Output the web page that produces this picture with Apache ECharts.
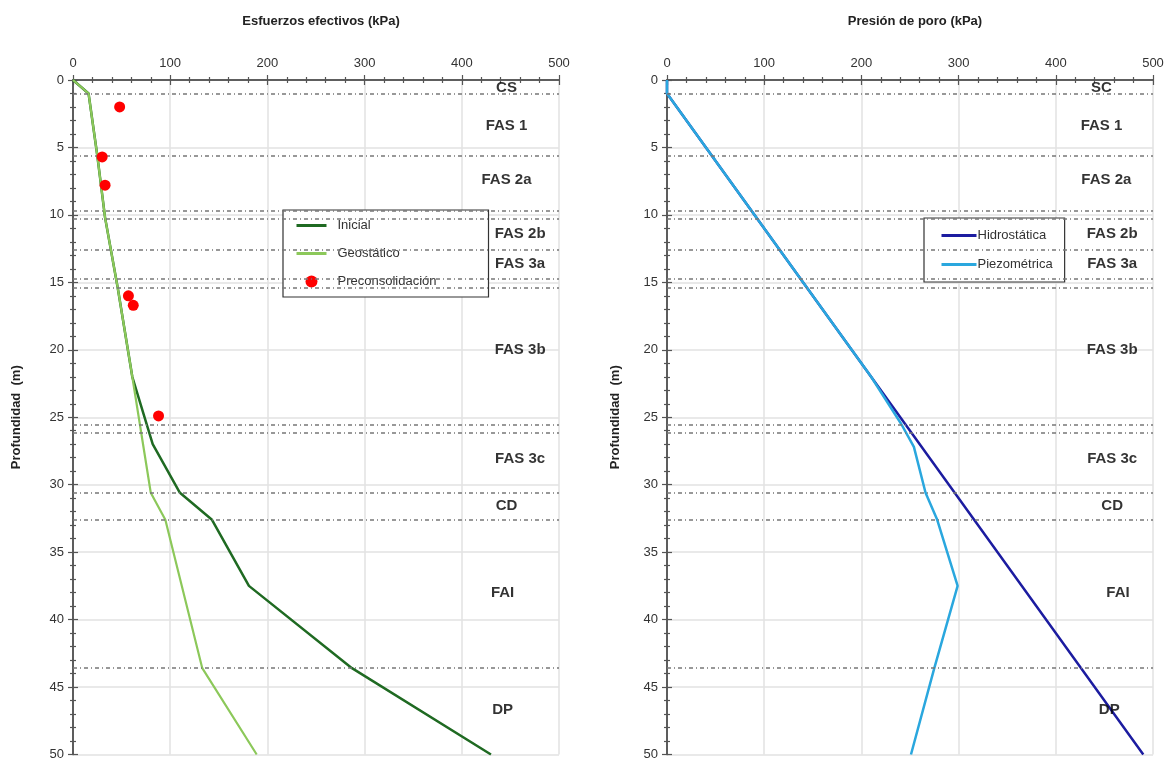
<!DOCTYPE html>
<html><head><meta charset="utf-8">
<script src="https://cdn.jsdelivr.net/npm/echarts@6/dist/echarts.min.js"></script>
<style>html,body{margin:0;padding:0;background:#fff}#c{width:1172px;height:761px}</style>
</head><body><div id="c"></div>
<script>
// ---- data ----
const xTicks = [0, 100, 200, 300, 400, 500];
const depthTicks = [0, 5, 10, 15, 20, 25, 30, 35, 40, 45, 50];
const depthInicial = [0, 1, 5.6, 10.2, 15.4, 22, 27, 30.6, 32.6, 37.5, 43.6, 50];
const inicial      = [0, 16, 25, 33, 46, 61, 82, 110, 143, 181, 287, 430];
const depthGeo     = [0, 1, 5.6, 10.2, 15.4, 22, 30.6, 32.6, 43.6, 50];
const geostatico   = [0, 16, 25, 33, 46, 61, 80, 95, 133, 189];
const precDepth    = [2.0, 5.7, 7.8, 16.0, 16.7, 24.9];
const precValue    = [48, 30, 33, 57, 62, 88];
const depthHidro   = [0, 1, 50];
const hidrostatica = [0, 0, 490];
const depthPiezo   = [0, 1, 22, 25.5, 27.2, 30.6, 32.6, 37.5, 43.6, 50];
const piezometrica = [0, 0, 210, 241, 254, 266, 278, 299, 275, 251];
const layerBounds  = [1.0, 5.6, 9.7, 10.3, 12.6, 14.75, 15.4, 25.55, 26.15, 30.6, 32.6, 43.55];
const layersLeft   = ['CS', 'FAS 1', 'FAS 2a', 'FAS 2b', 'FAS 3a', 'FAS 3b', 'FAS 3c', 'CD', 'FAI', 'DP'];
const layersRight  = ['SC', 'FAS 1', 'FAS 2a', 'FAS 2b', 'FAS 3a', 'FAS 3b', 'FAS 3c', 'CD', 'FAI', 'DP'];
const layerLabelDepth = [0.6, 3.4, 7.4, 11.4, 13.6, 20, 28.1, 31.6, 38, 46.7];

// ---- layout (not data) ----
const labelXLeft  = [446, 446, 446, 460, 460, 460, 460, 446, 442, 442];
const labelXRight = [447, 447, 452, 458, 458, 458, 458, 458, 464, 455];

const FONT = '"Liberation Sans", Arial, sans-serif';
const zip = (xs, ys) => xs.map((x, i) => [x, ys[i]]);

function xAxes(gridIndex) {
  const base = {
    gridIndex, type: 'value', position: 'top', min: 0, max: 500, interval: 100,
    axisLine: { show: true, lineStyle: { color: '#555', width: 1.5 } },
    minorTick: { show: true, splitNumber: 5, length: 3, lineStyle: { color: '#555', width: 1.2 } },
    axisTick: { show: true, length: 5, lineStyle: { color: '#555', width: 1.2 } },
    splitLine: { show: true, lineStyle: { color: '#e2e2e2', width: 1.5 } },
  };
  return [
    Object.assign({}, base, {
      axisLabel: { show: true, margin: 10, color: '#333', fontSize: 13, fontFamily: FONT }
    }),
    Object.assign({}, base, {
      axisLabel: { show: false }, splitLine: { show: false },
      axisTick: Object.assign({}, base.axisTick, { inside: true })
    })
  ];
}
function yAxes(gridIndex, nameGap) {
  const base = {
    gridIndex, type: 'value', position: 'left', inverse: true, min: 0, max: 50, interval: 5,
    axisLine: { show: true, onZero: false, lineStyle: { color: '#555', width: 1.5 } },
    minorTick: { show: true, splitNumber: 5, length: 3, lineStyle: { color: '#555', width: 1.2 } },
    axisTick: { show: true, length: 5, lineStyle: { color: '#555', width: 1.2 } },
    splitLine: { show: true, lineStyle: { color: '#e2e2e2', width: 1.5 } },
  };
  return [
    Object.assign({}, base, {
      name: 'Profundidad  (m)', nameLocation: 'middle', nameGap,
      nameTextStyle: { fontSize: 13, fontWeight: 'bold', color: '#222', fontFamily: FONT },
      axisLabel: { show: true, margin: 9, color: '#333', fontSize: 13, fontFamily: FONT }
    }),
    Object.assign({}, base, {
      axisLabel: { show: false }, splitLine: { show: false },
      axisTick: Object.assign({}, base.axisTick, { inside: true })
    })
  ];
}

const boundLine = {
  silent: true, symbol: 'none', animation: false,
  label: { show: false },
  lineStyle: { color: '#777', width: 1.5, type: [4, 3, 1, 3] },
  data: layerBounds.map(d => ({ yAxis: d }))
};
function labelSeries(xi, yi, names, xs) {
  return {
    type: 'scatter', xAxisIndex: xi, yAxisIndex: yi, symbolSize: 0, silent: true,
    data: names.map((n, i) => [xs[i], layerLabelDepth[i], n]),
    label: { show: true, position: 'inside', formatter: p => p.data[2],
      fontSize: 15, fontWeight: 'bold', color: '#000', fontFamily: FONT },
    z: 5
  };
}
const hideSym = { color: 'rgba(0,0,0,0)', borderWidth: 0 };

const chart = echarts.init(document.getElementById('c'), null, { renderer: 'canvas' });
chart.setOption({
  animation: false,
  backgroundColor: '#fff',
  title: [
    { text: 'Esfuerzos efectivos (kPa)', left: 316, top: 10, textAlign: 'center',
      textStyle: { fontSize: 13, fontWeight: 'bold', color: '#222', fontFamily: FONT } },
    { text: 'Presión de poro (kPa)', left: 910, top: 10, textAlign: 'center',
      textStyle: { fontSize: 13, fontWeight: 'bold', color: '#222', fontFamily: FONT } }
  ],
  grid: [
    { left: 73, top: 80, width: 486, height: 676 },
    { left: 667, top: 80, width: 486, height: 676 }
  ],
  xAxis: [...xAxes(0), ...xAxes(1)],
  yAxis: [...yAxes(0, 50), ...yAxes(1, 45)],
  legend: [
    { data: [{ name: 'Inicial', itemStyle: hideSym }, { name: 'Geostático', itemStyle: hideSym }, 'Preconsolidación'],
      orient: 'vertical',
      left: 283, top: 210, padding: [9, 52, 9, 12], itemGap: 15, itemWidth: 30, itemHeight: 12,
      lineStyle: { width: 3 },
      borderColor: '#333', borderWidth: 1.2, backgroundColor: '#fff',
      textStyle: { fontSize: 13, color: '#333', fontFamily: FONT, padding: [0, 0, 0, 6] } },
    { data: [{ name: 'Hidrostática', itemStyle: hideSym }, { name: 'Piezométrica', itemStyle: hideSym }],
      orient: 'vertical',
      left: 924, top: 218, padding: [11, 12, 11, 16], itemGap: 16, itemWidth: 35, itemHeight: 13,
      lineStyle: { width: 3 },
      borderColor: '#333', borderWidth: 1.2, backgroundColor: '#fff',
      textStyle: { fontSize: 13, color: '#333', fontFamily: FONT, padding: [0, 0, 0, -4] } }
  ],
  series: [
    { name: 'bounds1', type: 'line', xAxisIndex: 0, yAxisIndex: 0, data: [], markLine: boundLine, z: 1 },
    { name: 'bounds2', type: 'line', xAxisIndex: 2, yAxisIndex: 2, data: [], markLine: boundLine, z: 1 },
    { name: 'Inicial', type: 'line', xAxisIndex: 0, yAxisIndex: 0, symbol: 'none',
      data: zip(inicial, depthInicial), color: '#1f6a22', lineStyle: { width: 2.5, color: '#1f6a22' }, z: 3 },
    { name: 'Geostático', type: 'line', xAxisIndex: 0, yAxisIndex: 0, symbol: 'none',
      data: zip(geostatico, depthGeo), color: '#8cc85a', lineStyle: { width: 2.2, color: '#8cc85a' }, z: 4 },
    { name: 'Preconsolidación', type: 'scatter', xAxisIndex: 0, yAxisIndex: 0, symbolSize: 11,
      data: zip(precValue, precDepth), itemStyle: { color: '#ff0000', opacity: 1 }, z: 5 },
    { name: 'Hidrostática', type: 'line', xAxisIndex: 2, yAxisIndex: 2, symbol: 'none',
      data: zip(hidrostatica, depthHidro), color: '#1c1ca0', lineStyle: { width: 2.5, color: '#1c1ca0' }, z: 3 },
    { name: 'Piezométrica', type: 'line', xAxisIndex: 2, yAxisIndex: 2, symbol: 'none',
      data: zip(piezometrica, depthPiezo), color: '#2aa7de', lineStyle: { width: 2.5, color: '#2aa7de' }, z: 4 },
    labelSeries(0, 0, layersLeft, labelXLeft),
    labelSeries(2, 2, layersRight, labelXRight)
  ]
});
</script></body></html>
